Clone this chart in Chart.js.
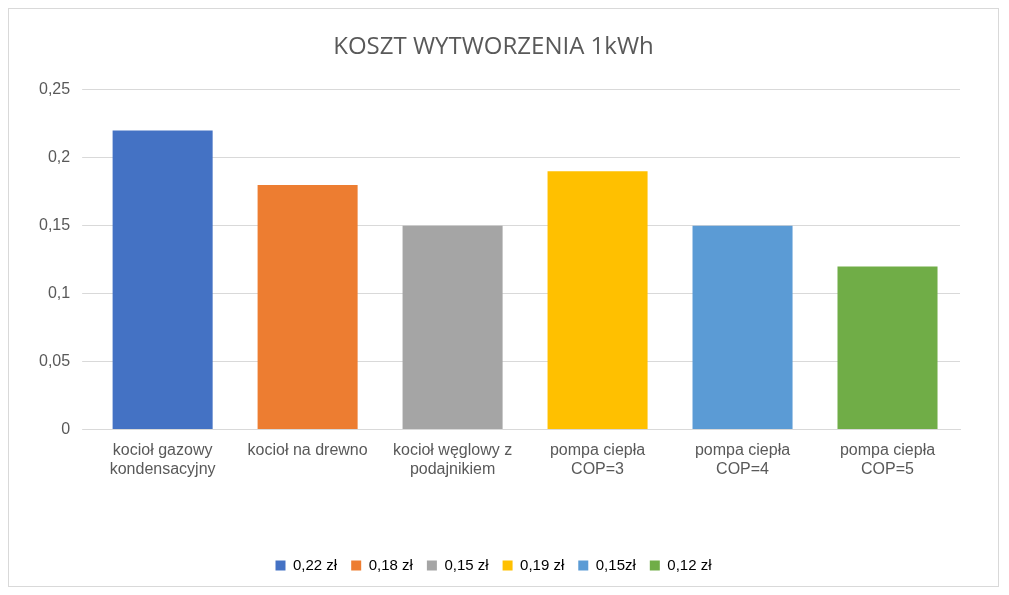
<!DOCTYPE html>
<html><head><meta charset="utf-8">
<script src="https://cdn.jsdelivr.net/npm/chart.js@4"></script>
<style>
html,body{margin:0;padding:0;background:#fff;}
#wrap{position:absolute;left:8px;top:8px;width:991px;height:579px;border:1px solid #d9d9d9;box-sizing:border-box;}
</style></head><body>
<div id="wrap"><canvas id="c"></canvas></div>
<script>
const categories = [["kocioł gazowy","kondensacyjny"],"kocioł na drewno",["kocioł węglowy z","podajnikiem"],["pompa ciepła","COP=3"],["pompa ciepła","COP=4"],["pompa ciepła","COP=5"]];
const values = [0.22,0.18,0.15,0.19,0.15,0.12];
const legendLabels = ["0,22 zł","0,18 zł","0,15 zł","0,19 zł","0,15zł","0,12 zł"];
const colors = ["#4472c4","#ed7d31","#a5a5a5","#ffc000","#5b9bd5","#70ad47"];
const fmt = v => String(Math.round(v*100)/100).replace('.',',');
new Chart(document.getElementById('c'),{
 type:'bar',
 data:{labels:categories,datasets:[{data:values,backgroundColor:colors,barPercentage:0.69,categoryPercentage:1}]},
 options:{
  responsive:true,maintainAspectRatio:false,animation:false,
  layout:{padding:{left:18,right:38,top:10,bottom:3}},
  plugins:{
   title:{display:true,text:'KOSZT WYTWORZENIA 1kWh',color:'#595959',font:{family:'"Open Sans", "Liberation Sans", sans-serif',size:24,weight:'normal'},padding:{top:14,bottom:28}},
   legend:{position:'bottom',labels:{color:'#595959',boxWidth:10,boxHeight:10,padding:14,font:{family:'"Liberation Sans", sans-serif',size:15},
     generateLabels:()=>legendLabels.map((t,i)=>({text:t,fillStyle:colors[i],strokeStyle:colors[i],lineWidth:0,index:i}))}},
   tooltip:{enabled:false}
  },
  scales:{
   x:{grid:{display:false},border:{color:'#d9d9d9'},afterFit:s=>{s.height+=62;},ticks:{color:'#595959',maxRotation:0,font:{family:'"Liberation Sans", sans-serif',size:16}}},
   y:{min:0,max:0.25,ticks:{stepSize:0.05,color:'#595959',padding:12,font:{family:'"Liberation Sans", sans-serif',size:16},callback:v=>fmt(v)},
      grid:{color:'#d9d9d9'},border:{display:false}}
  }
 }
});
</script></body></html>
